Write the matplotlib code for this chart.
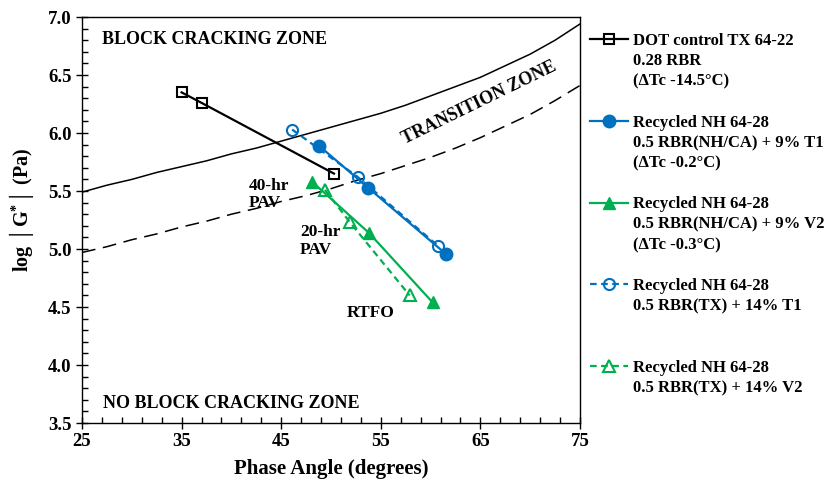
import matplotlib
matplotlib.use("Agg")
import matplotlib.pyplot as plt
from matplotlib.lines import Line2D
from matplotlib.ticker import FixedLocator, MultipleLocator, FormatStrFormatter

plt.rcParams['font.family'] = ['Liberation Serif', 'DejaVu Serif']
plt.rcParams['font.weight'] = 'bold'
plt.rcParams['mathtext.fontset'] = 'custom'
plt.rcParams['mathtext.rm'] = 'Liberation Serif:bold'
plt.rcParams['mathtext.bf'] = 'Liberation Serif:bold'
plt.rcParams['mathtext.default'] = 'bf'

# Threshold curves
curve_x = [25, 27.5, 30, 32.5, 35, 37.5, 40, 42.5, 45, 47.5, 50, 52.5, 55,
           57.5, 60, 62.5, 65, 67.5, 70, 72.5, 75]
onset_y = [5.49, 5.55, 5.60, 5.66, 5.71, 5.76, 5.82, 5.87, 5.93, 5.99, 6.05,
           6.11, 6.17, 6.24, 6.32, 6.40, 6.48, 6.58, 6.68, 6.80, 6.94]
limit_y = [4.97, 5.02, 5.08, 5.13, 5.19, 5.24, 5.30, 5.35, 5.41, 5.46, 5.52,
           5.59, 5.65, 5.72, 5.79, 5.87, 5.96, 6.06, 6.16, 6.28, 6.41]

# Series
dot_x = [35.0, 37.0, 50.3]
dot_y = [6.35, 6.26, 5.65]
t1_x = [48.8, 53.7, 61.5]
t1_y = [5.89, 5.53, 4.96]
v2_x = [48.1, 53.8, 60.2]
v2_y = [5.58, 5.14, 4.54]
tx_t1_x = [46.1, 52.7, 60.7]
tx_t1_y = [6.03, 5.62, 5.03]
tx_v2_x = [49.4, 51.9, 57.9]
tx_v2_y = [5.51, 5.23, 4.60]

x_ticks = [25, 35, 45, 55, 65, 75]

labels = [
    ["DOT control TX 64-22", "0.28 RBR", "(\u0394Tc -14.5\u00b0C)"],
    ["Recycled NH 64-28", "0.5 RBR(NH/CA) + 9% T1", "(\u0394Tc -0.2\u00b0C)"],
    ["Recycled NH 64-28", "0.5 RBR(NH/CA) + 9% V2", "(\u0394Tc -0.3\u00b0C)"],
    ["Recycled NH 64-28", "0.5 RBR(TX) + 14% T1"],
    ["Recycled NH 64-28", "0.5 RBR(TX) + 14% V2"],
]

blue = '#0070C0'
green = '#00B050'

fig = plt.figure(figsize=(8.25, 4.82), dpi=100)
ax = fig.add_axes([82/825, 59/482, 498/825, 406/482])

ax.plot(curve_x, onset_y, color='black', lw=1.1)
ax.plot(curve_x, limit_y, color='black', lw=1.1, dashes=(9, 5))

styles = [
    dict(color='black', marker='s', ms=7, mfc='none', mec='black', mew=1.5, ls='-', lw=1.6),
    dict(color=blue, marker='o', ms=9, mfc=blue, mec=blue, ls='-', lw=1.6),
    dict(color=green, marker='^', ms=9, mfc=green, mec=green, ls='-', lw=1.6),
    dict(color=blue, marker='o', ms=8, mfc='none', mec=blue, mew=1.5, ls=(0, (3, 2)), lw=1.6),
    dict(color=green, marker='^', ms=8, mfc='none', mec=green, mew=1.5, ls=(0, (3, 2)), lw=1.6),
]
series = [(dot_x, dot_y), (t1_x, t1_y), (v2_x, v2_y), (tx_t1_x, tx_t1_y), (tx_v2_x, tx_v2_y)]
for (xs, ys), st in zip(series, styles):
    ax.plot(xs, ys, **st)

ax.set_xlim(25, 75)
ax.set_ylim(3.5, 7.0)
ax.xaxis.set_major_locator(FixedLocator(x_ticks))
ax.xaxis.set_minor_locator(MultipleLocator(2, offset=1))
ax.yaxis.set_major_locator(MultipleLocator(0.5))
ax.yaxis.set_minor_locator(MultipleLocator(0.1))
ax.yaxis.set_major_formatter(FormatStrFormatter('%.1f'))
ax.tick_params(which='major', direction='inout', length=8, width=1, labelsize=13.5)
ax.tick_params(which='minor', direction='in', length=4, width=1)
for s in ax.spines.values():
    s.set_linewidth(1.0)

ax.set_xlabel('Phase Angle (degrees)', fontsize=15, fontweight='bold', labelpad=6)
ax.set_ylabel('log \u2502G$^{*}$\u2502 (Pa)', fontsize=14.5, fontweight='bold')
ax.yaxis.set_label_coords(-0.092, 0.525)

ax.text(27.0, 6.81, 'BLOCK CRACKING ZONE', fontsize=13, fontweight='bold', va='center')
ax.text(27.1, 3.67, 'NO BLOCK CRACKING ZONE', fontsize=13, fontweight='bold', va='center')
ax.text(64.9, 6.26, 'TRANSITION ZONE', fontsize=13, fontweight='bold',
        rotation=26, ha='center', va='center', rotation_mode='anchor')
ax.text(41.7, 5.47, '40-hr\nPAV', fontsize=12.5, fontweight='bold', va='center', linespacing=1.15)
ax.text(46.9, 5.07, '20-hr\nPAV', fontsize=12.5, fontweight='bold', va='center', linespacing=1.15)
ax.text(51.6, 4.45, 'RTFO', fontsize=12.5, fontweight='bold', va='center')

# Legend: one row per text line, handle on the first line of each group
handles, texts = [], []
blank = Line2D([], [], ls='none', marker='none')
for i, (lab, st) in enumerate(zip(labels, styles)):
    handles.append(Line2D([], [], **st))
    texts.append(lab[0])
    for line in lab[1:]:
        handles.append(blank)
        texts.append(line)
    if i < len(labels) - 1:
        for _ in range(4 - len(lab)):
            handles.append(blank)
            texts.append(' ')

leg = fig.legend(handles, texts, loc='upper left', bbox_to_anchor=(590/825, 1 - 33/482),
                 frameon=False, fontsize=12, handlelength=2.3, handletextpad=0.3,
                 labelspacing=0.265, borderaxespad=0, borderpad=0)
for t in leg.get_texts():
    t.set_fontweight('bold')

fig.savefig('out.png', dpi=100)
